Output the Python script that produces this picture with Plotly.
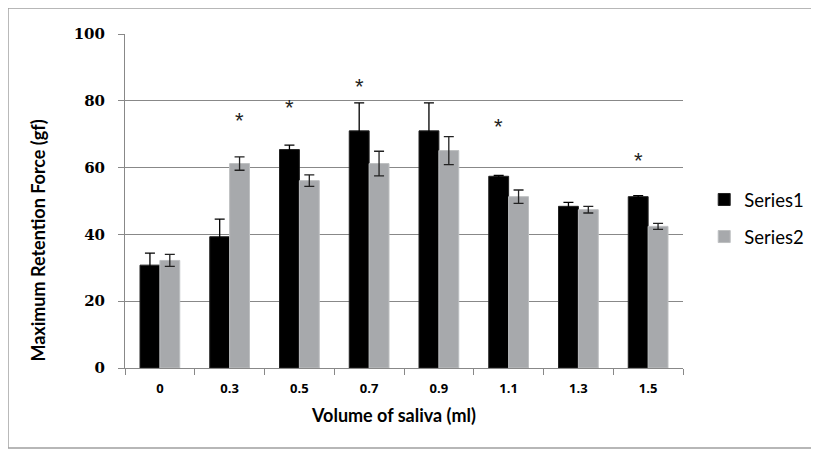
import plotly.graph_objects as go

categories = ["0", "0.3", "0.5", "0.7", "0.9", "1.1", "1.3", "1.5"]
series1 = [30.8, 39.3, 65.4, 71.0, 71.0, 57.4, 48.4, 51.3]
series1_err = [3.6, 5.3, 1.3, 8.4, 8.4, 0.3, 1.2, 0.3]
series2 = [32.2, 61.2, 56.1, 61.2, 65.1, 51.3, 47.4, 42.4]
series2_err = [1.8, 2.0, 1.7, 3.7, 4.2, 2.0, 1.0, 0.9]
# significance markers: (category, series index, y value)
stars = [("0.3", 2, 74.0), ("0.5", 1, 77.9), ("0.7", 1, 84.2), ("1.1", 1, 72.3), ("1.5", 1, 62.0)]
y_ticks = [0, 20, 40, 60, 80, 100]

FONT = "Lato, 'Open Sans', sans-serif"
GRAY = "#A7A9AC"

fig = go.Figure()
fig.add_trace(go.Bar(
    x=categories, y=series1, name="Series1", legendgroup="a",
    marker=dict(color="#000000", line=dict(color="#222222", width=1)),
    error_y=dict(type="data", array=series1_err, color="#000000", thickness=1.3, width=5),
))
fig.add_trace(go.Bar(
    x=categories, y=series2, name="Series2", legendgroup="b",
    marker=dict(color=GRAY, line=dict(color="#BDBFC1", width=1)),
    error_y=dict(type="data", array=series2_err, color="#222222", thickness=1.3, width=5),
))

for cat, s, yv in stars:
    fig.add_annotation(x=categories.index(cat), y=yv, text="*", showarrow=False, xref="x", yref="y",
                       xshift=-10 if s == 1 else 10, yanchor="middle",
                       font=dict(family="Liberation Sans", size=22, color="#222222"))

# y axis title placed like Excel
fig.add_annotation(x=-0.155, y=0.38, xref="paper", yref="paper", xanchor="center", yanchor="middle",
                   text="Maximum Retention Force (gf)", textangle=-90, showarrow=False,
                   font=dict(family=FONT, size=18, color="#000", weight="bold"))
fig.add_annotation(x=0.482, y=-0.14, xref="paper", yref="paper", xanchor="center", yanchor="middle",
                   text="Volume of saliva (ml)", showarrow=False,
                   font=dict(family=FONT, size=18, color="#000", weight="bold"))

# outer chart border
fig.add_shape(type="rect", xref="paper", yref="paper", x0=-0.2097, x1=1.26, y0=-0.2395, y1=1.078,
              line=dict(color="#A0A0A0", width=1.5), layer="below")

fig.update_layout(
    width=819, height=450,
    margin=dict(l=117, r=144, t=26, b=90, autoexpand=False),
    paper_bgcolor="white", plot_bgcolor="white",
    barmode="group", bargap=0.43, bargroupgap=0,
    font=dict(family=FONT, color="#000"),
    showlegend=True,
    legend=dict(x=1.038, y=0.56, xanchor="left", yanchor="top", traceorder="grouped",
                tracegroupgap=10, font=dict(family=FONT, size=18.5, color="#000"),
                bgcolor="rgba(0,0,0,0)"),
    xaxis=dict(type="category", tickson="boundaries", ticks="outside", ticklen=6,
               tickcolor="#888", showline=True, linecolor="#888", linewidth=1,
               showgrid=False, automargin=False, ticklabelstandoff=8,
               tickfont=dict(family="Open Sans", size=13, color="#000", weight="bold")),
    yaxis=dict(range=[0, 100], tickvals=y_ticks, ticks="outside", ticklen=6, tickcolor="#888",
               showline=True, linecolor="#888", linewidth=1, showgrid=True,
               gridcolor="#888", gridwidth=1, zeroline=False, automargin=False,
               ticklabelstandoff=10,
               tickfont=dict(family="DejaVu Serif", size=15, color="#000", weight="bold")),
)

fig.write_html("out.html")
